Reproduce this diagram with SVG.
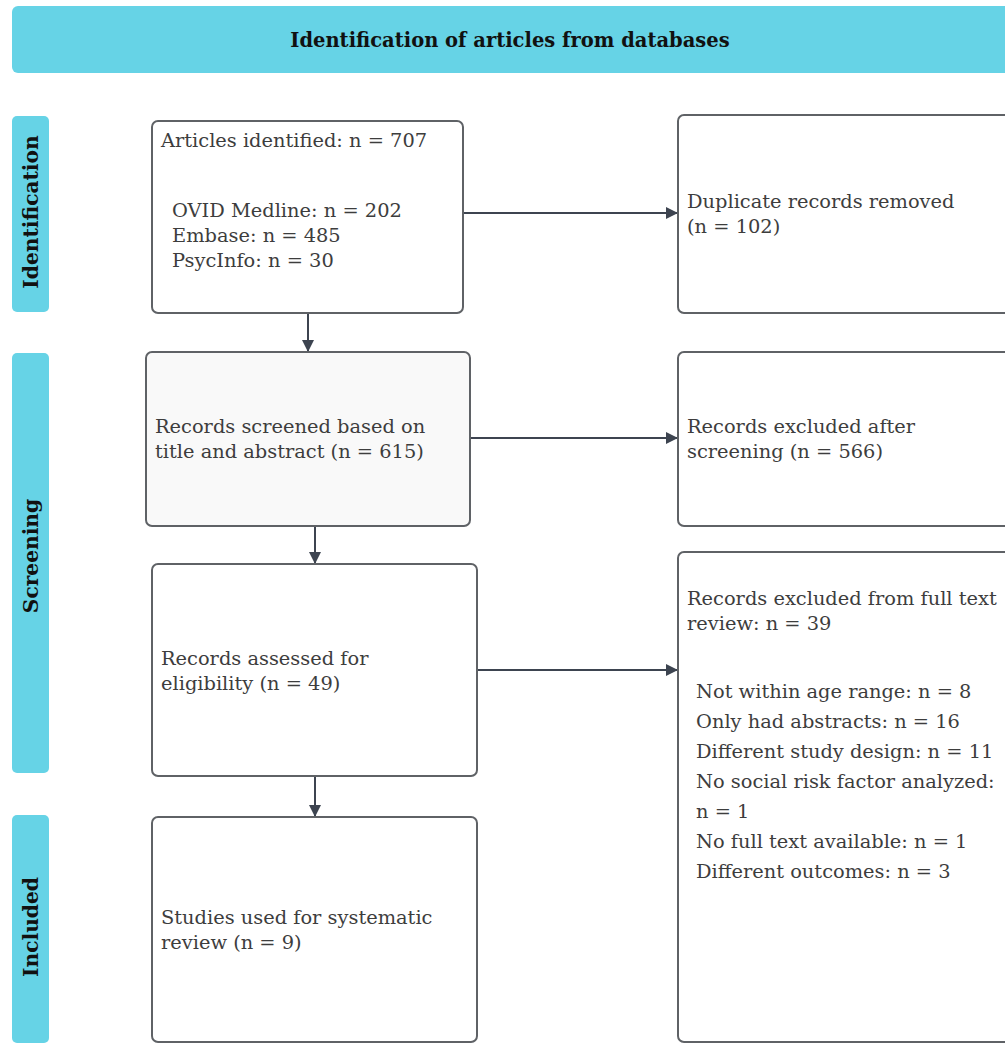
<svg xmlns="http://www.w3.org/2000/svg" width="1005" height="1044" viewBox="0 0 1005 1044">
<style>
.band{fill:#66d3e6;}
.box{fill:#ffffff;stroke:#5f6266;stroke-width:2;}
.grey{fill:#f9f9f9;}
.t{font-family:"DejaVu Serif","Liberation Serif",serif;font-size:19.4px;fill:#3d3d3d;}
.b{font-family:"DejaVu Serif","Liberation Serif",serif;font-size:19.5px;font-weight:bold;fill:#111111;}
.lb{font-size:20.2px;}
.conn{stroke:#3d4450;stroke-width:2;fill:none;}
</style>
<defs>
<marker id="ah2" viewBox="0 0 10 10" refX="10" refY="5" markerWidth="14" markerHeight="12" orient="auto" markerUnits="userSpaceOnUse">
<path d="M0,0 L10,5 L0,10 z" fill="#3d4450"/>
</marker>
</defs>
<rect width="1005" height="1044" fill="#ffffff"/>

<g id="header">
<rect class="band" x="12" y="6" width="1000" height="67" rx="6"/>
<text class="b" x="510" y="47" text-anchor="middle">Identification of articles from databases</text>
</g>

<g id="lane-identification">
<rect class="band" x="12" y="116" width="37" height="196" rx="5"/>
<text class="b lb" transform="translate(38,212) rotate(-90)" text-anchor="middle">Identification</text>
</g>
<g id="lane-screening">
<rect class="band" x="12" y="353" width="37" height="420" rx="5"/>
<text class="b lb" transform="translate(38,556) rotate(-90)" text-anchor="middle">Screening</text>
</g>
<g id="lane-included">
<rect class="band" x="12" y="815" width="37" height="228" rx="5"/>
<text class="b lb" transform="translate(38,927) rotate(-90)" text-anchor="middle">Included</text>
</g>

<g id="connectors">
<line class="conn" x1="463" y1="213" x2="678" y2="213" marker-end="url(#ah2)"/>
<line class="conn" x1="308" y1="313" x2="308" y2="352" marker-end="url(#ah2)"/>
<line class="conn" x1="470" y1="438" x2="678" y2="438" marker-end="url(#ah2)"/>
<line class="conn" x1="315" y1="526" x2="315" y2="564" marker-end="url(#ah2)"/>
<line class="conn" x1="477" y1="670" x2="678" y2="670" marker-end="url(#ah2)"/>
<line class="conn" x1="315" y1="776" x2="315" y2="817" marker-end="url(#ah2)"/>
</g>

<g id="articles-identified">
<rect class="box" x="152" y="121" width="311" height="192" rx="6"/>
<text class="t" x="161" y="147">Articles identified: n = 707</text>
<text class="t" x="172" y="217">OVID Medline: n = 202</text>
<text class="t" x="172" y="242">Embase: n = 485</text>
<text class="t" x="172" y="267">PsycInfo: n = 30</text>
</g>

<g id="duplicates-removed">
<rect class="box" x="678" y="115" width="340" height="198" rx="6"/>
<text class="t" x="687" y="208">Duplicate records removed</text>
<text class="t" x="687" y="233">(n = 102)</text>
</g>

<g id="records-screened">
<rect class="box grey" x="146" y="352" width="324" height="174" rx="6"/>
<text class="t" x="155" y="433">Records screened based on</text>
<text class="t" x="155" y="458">title and abstract (n = 615)</text>
</g>

<g id="excluded-screening">
<rect class="box" x="678" y="352" width="340" height="174" rx="6"/>
<text class="t" x="687" y="433">Records excluded after</text>
<text class="t" x="687" y="458">screening (n = 566)</text>
</g>

<g id="assessed-eligibility">
<rect class="box" x="152" y="564" width="325" height="212" rx="6"/>
<text class="t" x="161" y="665">Records assessed for</text>
<text class="t" x="161" y="690">eligibility (n = 49)</text>
</g>

<g id="excluded-fulltext">
<rect class="box" x="678" y="552" width="340" height="490" rx="6"/>
<text class="t" x="687" y="605">Records excluded from full text</text>
<text class="t" x="687" y="630">review: n = 39</text>
<text class="t" x="696" y="698">Not within age range: n = 8</text>
<text class="t" x="696" y="728">Only had abstracts: n = 16</text>
<text class="t" x="696" y="758">Different study design: n = 11</text>
<text class="t" x="696" y="788">No social risk factor analyzed:</text>
<text class="t" x="696" y="818">n = 1</text>
<text class="t" x="696" y="848">No full text available: n = 1</text>
<text class="t" x="696" y="878">Different outcomes: n = 3</text>
</g>

<g id="studies-included">
<rect class="box" x="152" y="817" width="325" height="225" rx="6"/>
<text class="t" x="161" y="924">Studies used for systematic</text>
<text class="t" x="161" y="949">review (n = 9)</text>
</g>
</svg>
